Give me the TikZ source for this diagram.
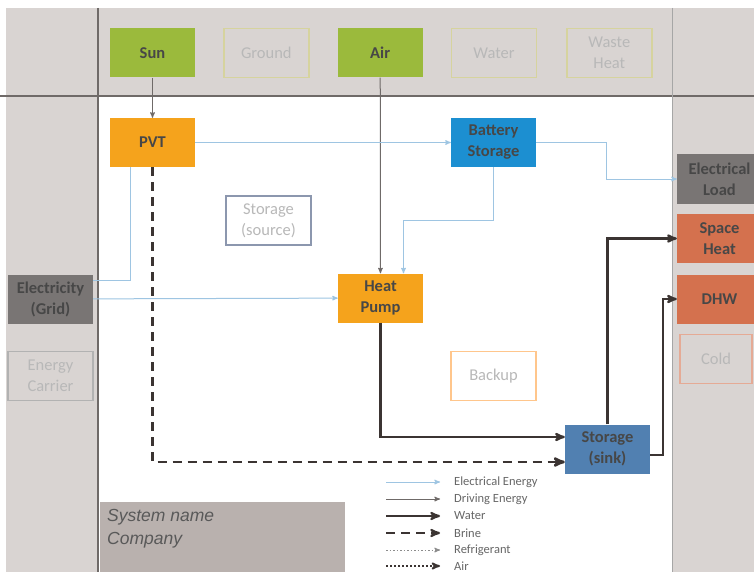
\documentclass[tikz,border=0pt]{standalone}
\usepackage{fontspec}
\setmainfont{Carlito}
\newfontfamily\namefont{Liberation Sans}
\usetikzlibrary{positioning, arrows}

\definecolor{framegray}{HTML}{D9D4D2}
\definecolor{rulegray}{HTML}{6F6A68}
\definecolor{sungreen}{HTML}{9BBA3C}
\definecolor{olivepale}{HTML}{D6D39E}
\definecolor{pvtorange}{HTML}{F5A31C}
\definecolor{battblue}{HTML}{1C8FD1}
\definecolor{loadgray}{HTML}{797574}
\definecolor{heatred}{HTML}{D4714E}
\definecolor{sinkblue}{HTML}{5180B1}
\definecolor{elecblue}{HTML}{9EC5E2}
\definecolor{darkline}{HTML}{3B3432}
\definecolor{namegray}{HTML}{B9B1AE}
\definecolor{sourceblue}{HTML}{8C97AE}

\tikzset{
>=stealth', % small bold arrow heads
box/.style={minimum width=85pt, minimum height=49pt, inner sep=1pt, align=center, font=\fontsize{16.5}{21}\selectfont, text=black!72}, % every component box
filled/.style={box, fill=#1, font=\fontsize{16.5}{21}\selectfont\bfseries}, % a box that is used in the system
ghost/.style={box, draw=#1, line width=1.3pt, text=black!28}, % a box that is not used
elec/.style={->, elecblue, line width=1pt}, % electrical energy
drive/.style={->, rulegray, line width=1pt}, % driving energy
water/.style={->, darkline, line width=2.2pt}, % water
brine/.style={->, darkline, line width=2.6pt, dash pattern=on 9pt off 6pt}, % brine
legend/.style={font=\fontsize{12.5}{12}\selectfont, text=black!60, anchor=west, inner sep=0pt},
}

\begin{document}
\begin{tikzpicture}[x=1pt, y=-1pt]
  \useasboundingbox (0,0) rectangle (754,572);
  % Frame
  \fill[white] (0,0) rectangle (754,572);
  \fill[framegray] (6,8) rectangle (754,572);
  \fill[white] (99,97) rectangle (672,572);
  \draw[rulegray, line width=1.2pt] (0,96) -- (754,96);
  \draw[rulegray, line width=1.2pt] (98,8) -- (98,572);
  \draw[black!35, line width=0.8pt] (672,8) -- (672,572);
  \fill[namegray] (100,502) rectangle (345,572);
  \node[anchor=north west, align=left, inner sep=0pt, font=\namefont\fontsize{17.5}{23}\selectfont\itshape, text=black!65] (sysname) at (107,509) {System name\\Company};

  % Sources
  \node[filled=sungreen] (sun) at (152.5,53) {Sun};
  \node[ghost=olivepale, right=28pt of sun] (ground) {Ground};
  \node[filled=sungreen, right=28pt of ground] (air) {Air};
  \node[ghost=olivepale, right=28pt of air] (water) {Water};
  \node[ghost=olivepale, right=29pt of water] (waste) {Waste\\Heat};

  % Energy carriers
  \node[filled=loadgray] (grid) at (50.5,299) {Electricity\\(Grid)};
  \node[ghost=black!30] (carrier) at (50.5,376) {Energy\\Carrier};

  % Components
  \node[filled=pvtorange] (pvt) at (152.5,142.5) {PVT};
  \node[filled=battblue] (batt) at (493.5,142.5) {Battery\\Storage};
  \node[ghost=sourceblue] (source) at (268.5,220.5) {Storage\\(source)};
  \node[filled=pvtorange] (hp) at (380.5,298) {Heat\\Pump};
  \node[ghost=orange!45] (backup) at (493.5,376) {Backup};
  \node[filled=sinkblue] (sink) at (607.5,449) {Storage\\(sink)};

  % Loads
  \node[filled=loadgray] (eload) at (719.5,179) {Electrical\\Load};
  \node[filled=heatred] (heat) at (719.5,238.5) {Space\\Heat};
  \node[filled=heatred] (dhw) at (719.5,299) {DHW};
  \node[ghost=heatred!60, minimum width=72pt] (cold) at (716,359) {Cold};

  % Connections
  \draw[drive] (sun) -- (pvt);
  \draw[drive] (air) -- (hp);
  \draw[elec] (pvt) -- (batt);
  \draw[elec] (batt.east) -- ++(70,0) |- (eload.west);
  \draw[elec] (batt.south) -- ++(0,53) -| ([xshift=23pt]hp.north);
  \draw[elecblue, line width=1pt] ([xshift=-22pt]pvt.south) |- ([yshift=19pt]grid.east);
  \draw[elec] (grid) -- (hp);
  \draw[brine] (pvt.south) |- ([yshift=-13pt]sink.west);
  \draw[water] (hp.south) |- ([yshift=12pt]sink.west);
  \draw[water] (sink.north) |- (heat.west);
  \draw[water] ([yshift=-6pt]sink.east) -- ++(13,0) |- (dhw.west);

  % Legend
  \node[legend] (lgelec) at (454,482) {Electrical Energy};
  \node[legend] (lgdrive) at (454,499) {Driving Energy};
  \node[legend] (lgwater) at (454,516) {Water};
  \node[legend] (lgbrine) at (454,533) {Brine};
  \node[legend] (lgrefr) at (454,550) {Refrigerant};
  \node[legend] (lgair) at (454,566) {Air};
  \draw[elec] ([xshift=-68pt]lgelec.west) -- ([xshift=-14pt]lgelec.west);
  \draw[drive] ([xshift=-68pt]lgdrive.west) -- ([xshift=-14pt]lgdrive.west);
  \draw[water] ([xshift=-68pt]lgwater.west) -- ([xshift=-14pt]lgwater.west);
  \draw[brine, line width=2.2pt] ([xshift=-68pt]lgbrine.west) -- ([xshift=-14pt]lgbrine.west);
  \draw[->, black!45, line width=1pt, dash pattern=on 1.5pt off 2pt] ([xshift=-68pt]lgrefr.west) -- ([xshift=-14pt]lgrefr.west);
  \draw[->, darkline, line width=1.8pt, dash pattern=on 2pt off 2pt] ([xshift=-68pt]lgair.west) -- ([xshift=-14pt]lgair.west);
\end{tikzpicture}
\end{document}
